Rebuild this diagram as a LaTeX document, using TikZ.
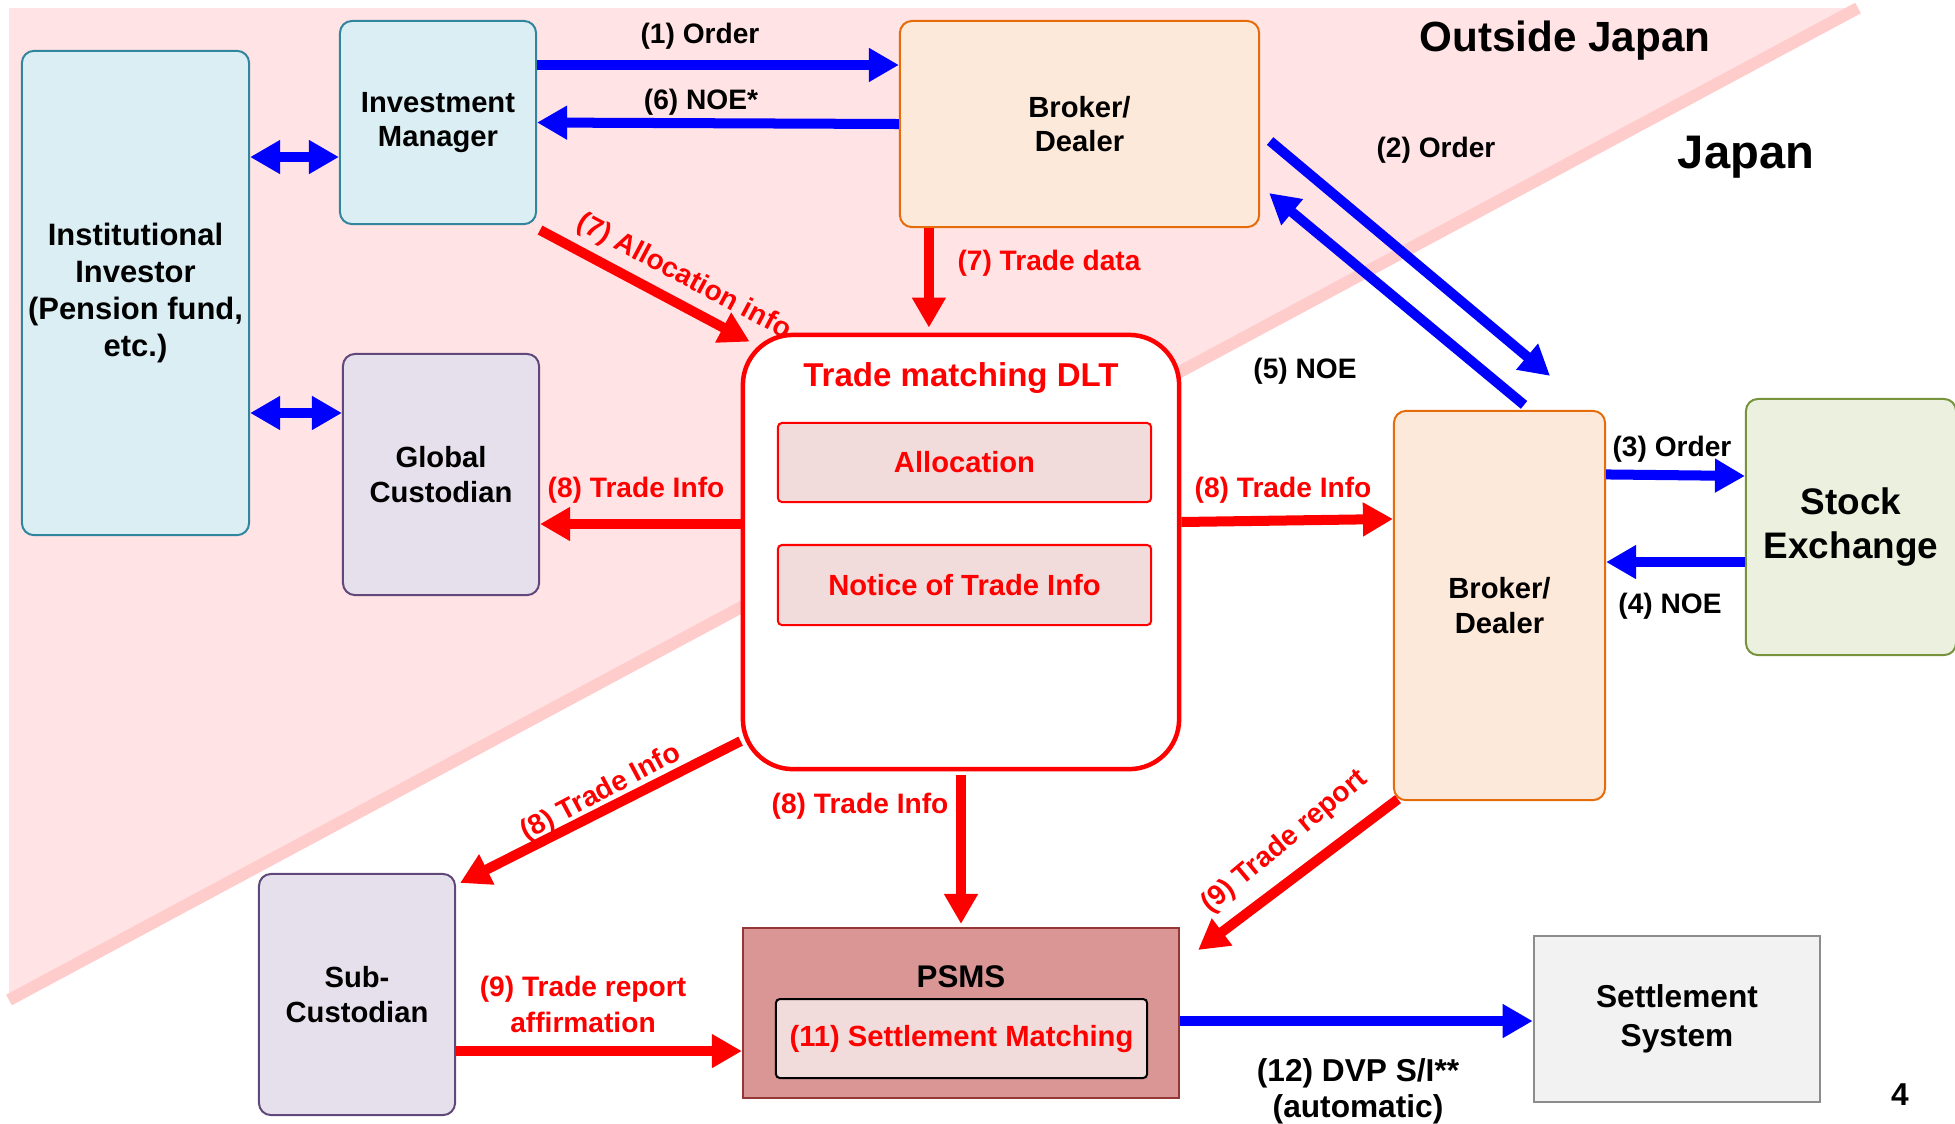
\documentclass[tikz,border=0pt]{standalone}
\usepackage{fontspec}
\setmainfont{Liberation Sans}
\usetikzlibrary{arrows.meta}

\definecolor{pinkbg}{RGB}{255,227,229}
\definecolor{pinkedge}{RGB}{255,204,204}
\definecolor{bluefill}{RGB}{218,238,243}
\definecolor{blueline}{RGB}{49,133,156}
\definecolor{lilacfill}{RGB}{229,224,236}
\definecolor{lilacline}{RGB}{96,73,122}
\definecolor{peachfill}{RGB}{253,233,217}
\definecolor{peachline}{RGB}{228,108,10}
\definecolor{greenfill}{RGB}{235,241,222}
\definecolor{greenline}{RGB}{119,147,60}
\definecolor{rosefill}{RGB}{242,220,219}
\definecolor{psmsfill}{RGB}{217,150,148}
\definecolor{psmsline}{RGB}{149,55,53}
\definecolor{greyfill}{RGB}{242,242,242}
\definecolor{greyline}{RGB}{140,140,140}

\begin{document}
\begin{tikzpicture}[x=0.01cm,y=-0.01cm,
    box/.style={draw,line width=0.02cm,rounded corners=0.12cm,align=center,inner sep=0pt,
      font=\fontsize{8.3pt}{9.8pt}\selectfont\bfseries},
    lbl/.style={align=center,inner sep=0pt,font=\fontsize{8pt}{10.2pt}\selectfont\bfseries},
    flow/.style={line width=0.1cm,-{Triangle[length=0.3cm,width=0.32cm]}},
    both/.style={line width=0.1cm,{Triangle[length=0.3cm,width=0.32cm]}-{Triangle[length=0.3cm,width=0.32cm]}}]
    \path[use as bounding box] (0,0) rectangle (1955,1123);
    % outside Japan area
    \fill[pinkbg] (9,8) -- (1858,8) -- (9,1000) -- cycle;
    \draw[pinkedge,line width=0.12cm] (1858,8) -- (9,1000);
    \node[font=\fontsize{12pt}{14pt}\selectfont\bfseries] (outside) at (1565,41) {Outside Japan};
    \node[font=\fontsize{13.4pt}{16pt}\selectfont\bfseries] (japan) at (1746,157) {Japan};

    % boxes
    \node[box,fill=bluefill,draw=blueline,minimum width=2.27cm,minimum height=4.84cm,
      font=\fontsize{8.8pt}{10.5pt}\selectfont\bfseries] (inst) at (135.5,293)
      {Institutional\\Investor\\(Pension fund,\\etc.)};
    \node[box,fill=bluefill,draw=blueline,minimum width=1.96cm,minimum height=2.03cm] (im) at (438,122.5) {Investment\\Manager};
    \node[box,fill=lilacfill,draw=lilacline,minimum width=1.96cm,minimum height=2.41cm] (gc) at (441,474.5) {Global\\Custodian};
    \node[box,fill=peachfill,draw=peachline,minimum width=3.59cm,minimum height=2.06cm] (bdo) at (1079.5,124) {Broker/\\Dealer};
    \node[box,fill=white,draw=red,line width=0.045cm,rounded corners=0.5cm,minimum width=4.36cm,minimum height=4.34cm] (dlt) at (961,552) {};
    \node[lbl,text=red,font=\fontsize{9.4pt}{11pt}\selectfont\bfseries] (dlttitle) at (961,378) {Trade matching DLT};
    \node[box,fill=rosefill,draw=red,rounded corners=0.04cm,text=red,minimum width=3.73cm,minimum height=0.79cm] (alloc) at (964.5,462.5) {Allocation};
    \node[box,fill=rosefill,draw=red,rounded corners=0.04cm,text=red,minimum width=3.73cm,minimum height=0.8cm] (notice) at (964.5,585) {Notice of Trade Info};
    \node[box,fill=peachfill,draw=peachline,minimum width=2.11cm,minimum height=3.89cm] (bdj) at (1499.5,605.5) {Broker/\\Dealer};
    \node[box,fill=greenfill,draw=greenline,minimum width=2.1cm,minimum height=2.56cm,
      font=\fontsize{10.5pt}{12.5pt}\selectfont\bfseries] (se) at (1851,527) {Stock\\Exchange};
    \node[box,fill=lilacfill,draw=lilacline,minimum width=1.96cm,minimum height=2.41cm] (sub) at (357,994.5) {Sub-\\Custodian};
    \node[box,fill=psmsfill,draw=psmsline,rounded corners=0cm,minimum width=4.36cm,minimum height=1.7cm] (psms) at (961,1013) {};
    \node[lbl,font=\fontsize{8.9pt}{10pt}\selectfont\bfseries] (psmstitle) at (961,977) {PSMS};
    \node[box,fill=rosefill,draw=black,rounded corners=0.04cm,text=red,minimum width=3.71cm,minimum height=0.79cm] (sm) at (961.5,1038.5) {(11) Settlement Matching};
    \node[box,fill=greyfill,draw=greyline,line width=0.025cm,rounded corners=0cm,minimum width=2.86cm,minimum height=1.66cm,
      font=\fontsize{9pt}{11pt}\selectfont\bfseries] (ss) at (1677,1019) {Settlement\\System};

    % blue flows
    \draw[both,blue] ([yshift=-0.345cm]im.west -| inst.east) -- ([yshift=-0.345cm]im.west);
    \draw[both,blue] ([yshift=0.615cm]gc.west -| inst.east) -- ([yshift=0.615cm]gc.west);
    \draw[flow,blue] ([yshift=0.575cm]im.east) -- ([yshift=0.575cm]im.east -| bdo.west);
    \draw[flow,blue] (bdo.west) -- (im.east);
    \draw[flow,blue] ([xshift=0.1cm,yshift=-0.17cm]bdo.east) -- ([xshift=0.505cm,yshift=0.34cm]bdj.north);
    \draw[flow,blue] ([xshift=0.245cm,yshift=0.05cm]bdj.north) -- ([xshift=0.09cm,yshift=-0.69cm]bdo.east);
    \draw[flow,blue] ([yshift=1.31cm]bdj.east) -- ([yshift=0.51cm]se.west);
    \draw[flow,blue] ([yshift=-0.35cm]se.west) -- ([yshift=-0.35cm]se.west -| bdj.east);
    \draw[flow,blue] ([yshift=-0.08cm]psms.east) -- ([yshift=-0.08cm]psms.east -| ss.west);

    % red flows
    \draw[flow,red] ([xshift=0.03cm,yshift=-0.05cm]im.south east) -- ([xshift=0.09cm,yshift=-0.09cm]dlt.north west);
    \draw[flow,red] ([xshift=-1.505cm]bdo.south) -- ([xshift=-1.505cm,yshift=0.05cm]bdo.south |- dlt.north);
    \draw[flow,red] ([yshift=0.28cm]dlt.west) -- ([yshift=0.28cm]dlt.west -| gc.east);
    \draw[flow,red] ([yshift=0.3cm]dlt.east) -- ([yshift=0.865cm]bdj.west);
    \draw[flow,red] ([yshift=-1.89cm]dlt.west) -- ([xshift=0.04cm,yshift=-0.1cm]sub.north east);
    \draw[flow,red] ([yshift=-0.04cm]dlt.south) -- ([yshift=0.03cm]psms.north);
    \draw[flow,red] ([xshift=0.05cm,yshift=0.02cm]bdj.south west) -- ([xshift=0.18cm,yshift=-0.23cm]psms.north east);
    \draw[flow,red] ([yshift=-0.565cm]sub.east) -- ([yshift=-0.565cm]sub.east -| psms.west);

    % labels
    \node[lbl] (l1) at (700,36) {(1) Order};
    \node[lbl] (l6) at (701,102) {(6) NOE*};
    \node[lbl] (l2) at (1436,150) {(2) Order};
    \node[lbl] (l5) at (1305,371) {(5) NOE};
    \node[lbl] (l3) at (1672,449) {(3) Order};
    \node[lbl] (l4) at (1670,606) {(4) NOE};
    \node[lbl,red,rotate=-28] (l7a) at (684,277) {(7) Allocation info};
    \node[lbl,red] (l7b) at (1049,263) {(7) Trade data};
    \node[lbl,red] (l8a) at (636,490) {(8) Trade Info};
    \node[lbl,red] (l8b) at (1283,490) {(8) Trade Info};
    \node[lbl,red,rotate=28] (l8c) at (601,793) {(8) Trade Info};
    \node[lbl,red] (l8d) at (860,806) {(8) Trade Info};
    \node[lbl,red,rotate=40] (l9a) at (1285,842) {(9) Trade report};
    \node[lbl,red] (l9b) at (583,1004) {(9) Trade report\\affirmation};
    \node[lbl,font=\fontsize{9pt}{10.2pt}\selectfont\bfseries] (l12) at (1358,1091) {(12) DVP S/I**\\(automatic)};
    \node[lbl,font=\fontsize{9pt}{10pt}\selectfont\bfseries] (page) at (1900,1095) {4};
\end{tikzpicture}
\end{document}
